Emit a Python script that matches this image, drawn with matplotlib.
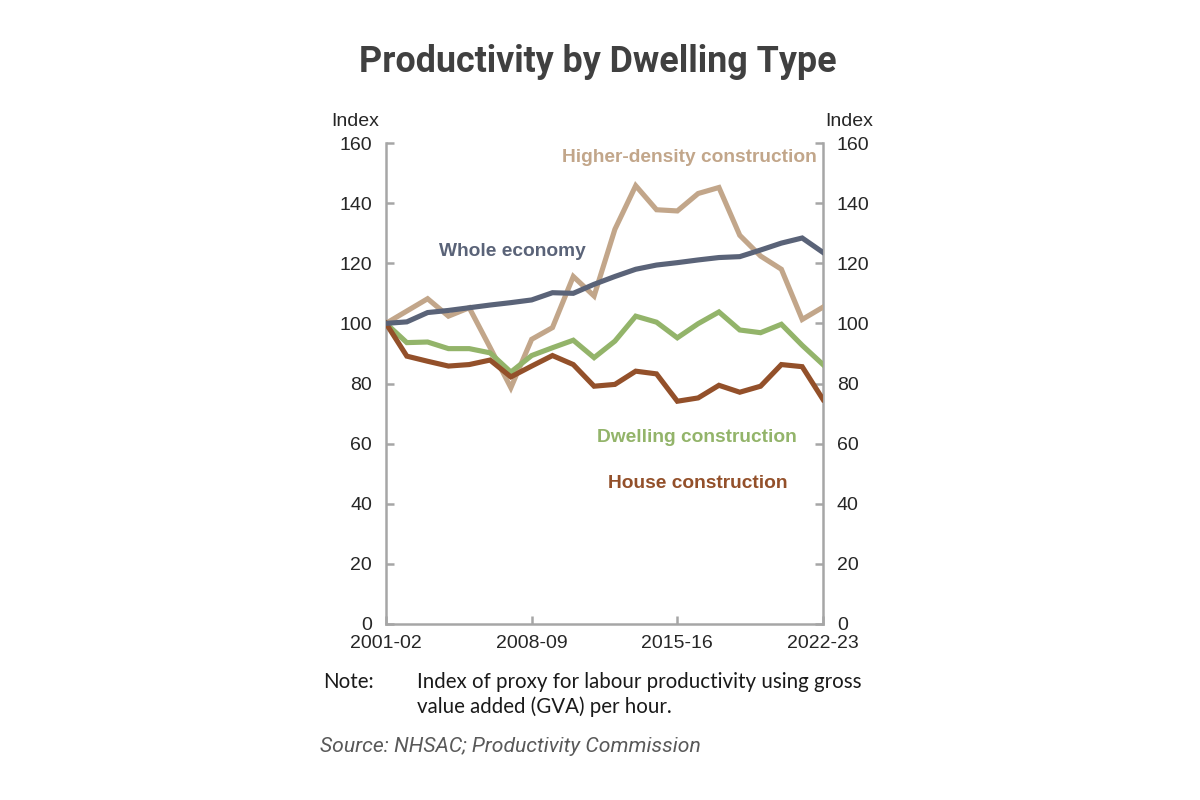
import matplotlib
matplotlib.use("Agg")
import matplotlib.pyplot as plt
import numpy as np

years = ["2001-02", "2002-03", "2003-04", "2004-05", "2005-06", "2006-07", "2007-08",
         "2008-09", "2009-10", "2010-11", "2011-12", "2012-13", "2013-14", "2014-15",
         "2015-16", "2016-17", "2017-18", "2018-19", "2019-20", "2020-21", "2021-22",
         "2022-23"]
whole_economy = [100, 100.5, 103.6, 104.3, 105.2, 106.1, 106.9, 107.8, 110.2, 110.0, 113.0,
                 115.6, 118.0, 119.4, 120.2, 121.1, 121.9, 122.2, 124.4, 126.7, 128.4, 123.6]
higher_density = [100, 104.1, 108.2, 102.4, 105.2, 92.0, 78.6, 94.7, 98.6, 115.6, 109.1,
                  131.3, 145.8, 137.8, 137.4, 143.2, 145.2, 129.3, 122.4, 118.0, 101.3, 105.4]
dwelling = [100, 93.6, 93.8, 91.6, 91.6, 90.2, 83.8, 89.3, 91.9, 94.4, 88.6,
            94.1, 102.4, 100.4, 95.2, 99.9, 103.8, 97.8, 96.9, 99.7, 92.7, 86.3]
house = [100, 89.1, 87.4, 85.8, 86.3, 87.8, 82.2, 85.8, 89.3, 86.3, 79.1,
         79.7, 84.1, 83.2, 74.1, 75.2, 79.4, 77.1, 79.1, 86.3, 85.6, 74.7]
tick_years = ["2001-02", "2008-09", "2015-16", "2022-23"]
y_ticks = [0, 20, 40, 60, 80, 100, 120, 140, 160]

W, H = 1200, 800
fig = plt.figure(figsize=(12, 8), dpi=100)
fig.patch.set_facecolor("white")

L, R, B, T = 386, 823, 624, 143
ax = fig.add_axes([L / W, 1 - B / H, (R - L) / W, (B - T) / H])

x = np.arange(len(years))
c_whole = "#5A6378"
c_high = "#C2A68A"
c_dwell = "#93B46A"
c_house = "#93502A"
lw = 3.7
ax.plot(x, higher_density, color=c_high, lw=lw, solid_joinstyle="miter", zorder=3)
ax.plot(x, whole_economy, color=c_whole, lw=lw, solid_joinstyle="miter", zorder=4)
ax.plot(x, dwelling, color=c_dwell, lw=lw, solid_joinstyle="miter", zorder=3)
ax.plot(x, house, color=c_house, lw=lw, solid_joinstyle="miter", zorder=3)

ax.set_xlim(0, len(years) - 1)
ax.set_ylim(0, 160)

grey = "#A6A6A6"
for s in ["left", "right", "bottom"]:
    ax.spines[s].set_color(grey)
    ax.spines[s].set_linewidth(1.8)
ax.spines["top"].set_visible(False)

ax.set_yticks(y_ticks)
ax.set_yticklabels([str(v) for v in y_ticks])
ax.set_xticks([years.index(t) for t in tick_years])
ax.set_xticklabels(tick_years)
ax.tick_params(axis="both", direction="in", length=6, width=1.8, color=grey,
               labelsize=14, labelcolor="#262626")
ax.tick_params(axis="y", which="both", left=True, right=True, labelleft=True,
               labelright=True, pad=10)
ax.tick_params(axis="x", pad=8)
for t in ax.yaxis.get_major_ticks():
    t.label1.set_fontfamily("Liberation Sans")
    t.label2.set_fontfamily("Liberation Sans")
for t in ax.xaxis.get_major_ticks():
    t.label1.set_fontfamily("Liberation Sans")


def ftext(px, py, s, **kw):
    fig.text(px / W, 1 - py / H, s, **kw)


ftext(598, 62, "Productivity by Dwelling Type", ha="center", va="center",
      fontsize=25.8, fontweight="bold", family="Roboto", color="#404040")
ftext(355, 122, "Index", ha="center", va="center", fontsize=14,
      family="Liberation Sans", color="#262626")
ftext(849, 122, "Index", ha="center", va="center", fontsize=14,
      family="Liberation Sans", color="#262626")

lab_kw = dict(va="center", fontsize=13.8, fontweight="bold", family="Liberation Sans")
ftext(689, 158, "Higher-density construction", ha="center", color=c_high, **lab_kw)
ftext(512, 252, "Whole economy", ha="center", color=c_whole, **lab_kw)
ftext(697, 438, "Dwelling construction", ha="center", color=c_dwell, **lab_kw)
ftext(698, 484, "House construction", ha="center", color=c_house, **lab_kw)

note_kw = dict(va="center", fontsize=14.8, family="Lato", color="#1a1a1a")
ftext(323, 682, "Note:", ha="left", **note_kw)
ftext(417, 682, "Index of proxy for labour productivity using gross", ha="left", **note_kw)
ftext(417, 707, "value added (GVA) per hour.", ha="left", **note_kw)
ftext(320, 746, "Source: NHSAC; Productivity Commission", ha="left", va="center",
      fontsize=15.2, family="Roboto", style="italic", color="#595959")

fig.savefig("out.png", dpi=100, facecolor="white")
